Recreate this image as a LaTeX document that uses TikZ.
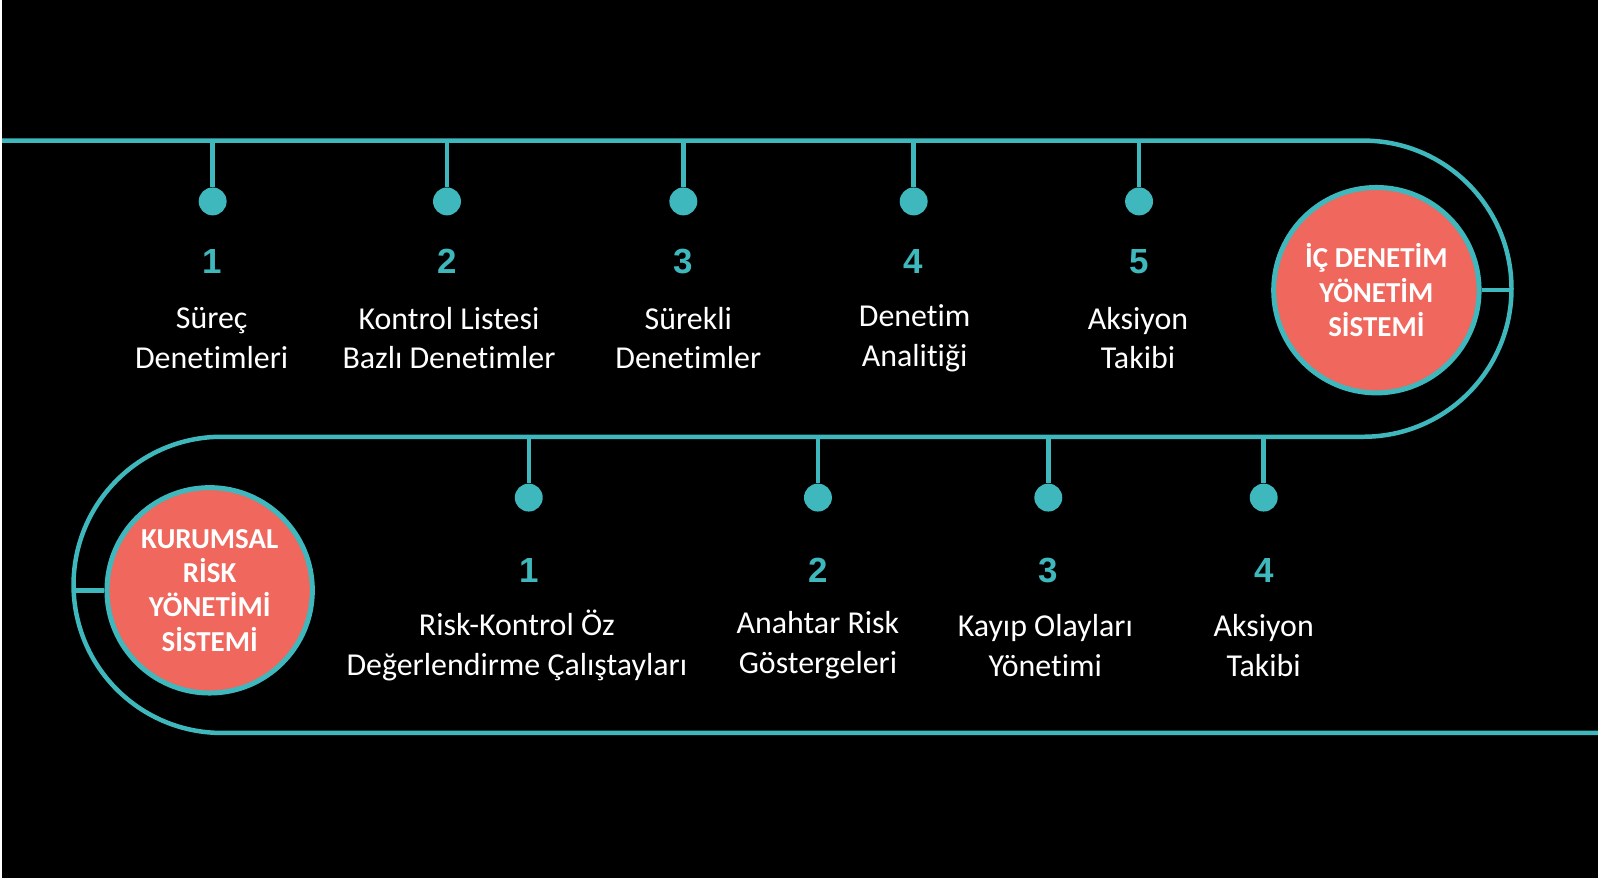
\documentclass[tikz,border=0pt]{standalone}
\usepackage{fontspec}
\setmainfont[Ligatures=NoCommon]{Carlito}
\newfontfamily\numfont{Liberation Sans}
\usepackage{tikz}
\usetikzlibrary{shapes,positioning}
\definecolor{teal}{RGB}{62, 184, 188}
\definecolor{salmon}{RGB}{239, 103, 93}
\tikzstyle{track} = [draw=teal, line width=4.5pt]
\tikzstyle{stem} = [draw=teal, line width=4.5pt]
\tikzstyle{pin} = [circle, fill=teal, inner sep=0pt, minimum size=28pt]
\tikzstyle{hub} = [circle, draw=teal, line width=5pt, fill=salmon, text=white, align=center, font=\fontsize{29}{34.5}\selectfont\bfseries, minimum size=206pt, inner sep=0pt]
\tikzstyle{num} = [text=teal, font=\numfont\fontsize{35}{40}\selectfont\bfseries, inner sep=0pt]
\tikzstyle{label} = [text=white, align=center, font=\fontsize{32}{40}\selectfont, inner sep=0pt]

\begin{document}
\begin{tikzpicture}[x=1pt, y=1pt]

% background =============================
\fill[black] (0,0) rectangle (1600,880);

% track
\path[track] (0,739) -- (1365,739) arc (90:-90:148.5) -- (220,442) arc (90:270:148.5) -- (1600,145);

% hubs ===================================
\node[hub] (ic) at (1378,589) {İÇ DENETİM\\YÖNETİM\\SİSTEMİ};
\node[hub] (krm) at (208,288) {KURUMSAL\\RİSK\\YÖNETİMİ\\SİSTEMİ};
\coordinate (icarc) at (1513.5,589);
\coordinate (krmarc) at (71.5,288);
\path[stem] (ic.east) -- (icarc);
\path[stem] (krm.west) -- (krmarc);

% upper row ==============================
\coordinate (u1) at (211,739);
\coordinate (u2) at (446,739);
\coordinate (u3) at (683,739);
\coordinate (u4) at (914,739);
\coordinate (u5) at (1140,739);
\node[pin] (pu1) at (211,678) {};
\node[pin] (pu2) at (446,678) {};
\node[pin] (pu3) at (683,678) {};
\node[pin] (pu4) at (914,678) {};
\node[pin] (pu5) at (1140,678) {};
\node[num] (nu1) at (211,618) {1};
\node[num] (nu2) at (446,618) {2};
\node[num] (nu3) at (683,618) {3};
\node[num] (nu4) at (914,618) {4};
\node[num] (nu5) at (1140,618) {5};
\node[label] (lu1) at (210,541) {Süreç\\Denetimleri};
\node[label] (lu2) at (448,541) {Kontrol Listesi\\Bazlı Denetimler};
\node[label] (lu3) at (688,541) {Sürekli\\Denetimler};
\node[label] (lu4) at (915,541) {Denetim\\Analitiği};
\node[label] (lu5) at (1139,541) {Aksiyon\\Takibi};

% edges
\path[stem] (u1) -- (pu1);
\path[stem] (u2) -- (pu2);
\path[stem] (u3) -- (pu3);
\path[stem] (u4) -- (pu4);
\path[stem] (u5) -- (pu5);

% lower row ==============================
\coordinate (l1) at (528,442);
\coordinate (l2) at (818,442);
\coordinate (l3) at (1049,442);
\coordinate (l4) at (1265,442);
\node[pin] (pl1) at (528,381) {};
\node[pin] (pl2) at (818,381) {};
\node[pin] (pl3) at (1049,381) {};
\node[pin] (pl4) at (1265,381) {};
\node[num] (nl1) at (528,308) {1};
\node[num] (nl2) at (818,308) {2};
\node[num] (nl3) at (1049,308) {3};
\node[num] (nl4) at (1265,308) {4};
\node[label] (ll1) at (516,233) {Risk-Kontrol Öz\\Değerlendirme Çalıştayları};
\node[label] (ll2) at (818,233) {Anahtar Risk\\Göstergeleri};
\node[label] (ll3) at (1046,233) {Kayıp Olayları\\Yönetimi};
\node[label] (ll4) at (1265,233) {Aksiyon\\Takibi};

% edges
\path[stem] (l1) -- (pl1);
\path[stem] (l2) -- (pl2);
\path[stem] (l3) -- (pl3);
\path[stem] (l4) -- (pl4);

\end{tikzpicture}
\end{document}
